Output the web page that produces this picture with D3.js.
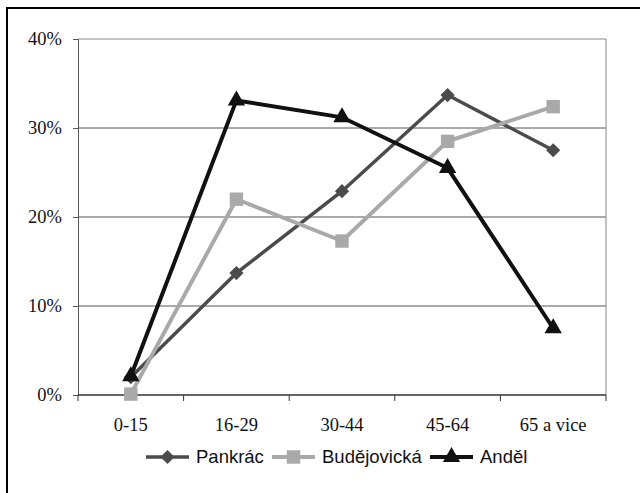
<!DOCTYPE html>
<html>
<head>
<meta charset="utf-8">
<script src="https://cdn.jsdelivr.net/npm/d3@7"></script>
<style>
  body { margin: 0; background: #fff; }
  svg { display: block; }
</style>
</head>
<body>
<svg id="chart" width="640" height="493"></svg>
<script>
// age groups and shares (%) per station
const categories = ['0-15', '16-29', '30-44', '45-64', '65 a vice'];
const pankrac = [2.0, 13.7, 22.9, 33.7, 27.5];
const budejovicka = [0.1, 22.0, 17.3, 28.5, 32.4];
const andel = [2.1, 33.1, 31.2, 25.5, 7.5];
const yTicks = [0, 10, 20, 30, 40];

const series = [
    { name: 'Pankrác', values: pankrac, color: '#4b4b4b', width: 3.5, symbol: d3.symbolSquare, size: 100, rotate: 45 },
    { name: 'Budějovická', values: budejovicka, color: '#a9a9a9', width: 4, symbol: d3.symbolSquare, size: 180, rotate: 0 },
    { name: 'Anděl', values: andel, color: '#111', width: 4, symbol: d3.symbolTriangle, size: 130, rotate: 0 }
];

const svg = d3.select('#chart');
const plot = { left: 78, top: 39, right: 606, bottom: 395 };

// outer frame (runs off the right and bottom edge like the scan)
svg.append('rect')
    .attr('x', 7).attr('y', 8)
    .attr('width', 660).attr('height', 520)
    .attr('fill', 'none')
    .attr('stroke', '#000')
    .attr('stroke-width', 2);

const x = d3.scaleBand().domain(categories).range([plot.left, plot.right]);
const y = d3.scaleLinear().domain([0, 40]).range([plot.bottom, plot.top]);

// gridlines
svg.append('g')
    .selectAll('line')
    .data(yTicks.slice(1))
    .enter().append('line')
    .attr('x1', plot.left).attr('x2', plot.right)
    .attr('y1', d => y(d)).attr('y2', d => y(d))
    .attr('stroke', d => d === 40 ? '#888' : '#555')
    .attr('stroke-width', 1);

// right border of plot area
svg.append('line')
    .attr('x1', plot.right).attr('x2', plot.right)
    .attr('y1', plot.top).attr('y2', plot.bottom)
    .attr('stroke', '#888');

// y axis
const yAxis = svg.append('g')
    .attr('transform', `translate(${plot.left},0)`)
    .call(d3.axisLeft(y).tickValues(yTicks).tickFormat(d => d + '%').tickSize(5).tickPadding(11));
yAxis.select('.domain').attr('stroke', '#555');
yAxis.selectAll('.tick line').attr('stroke', '#555');
yAxis.selectAll('text')
    .attr('font-family', 'Liberation Serif, serif')
    .attr('font-size', 18.5)
    .attr('fill', '#111');

// x axis, ticks at band edges
const edges = categories.map(c => x(c)).concat([plot.right]);
const xAxis = svg.append('g')
    .attr('transform', `translate(0,${plot.bottom})`);
xAxis.append('line')
    .attr('x1', plot.left).attr('x2', plot.right)
    .attr('stroke', '#333').attr('stroke-width', 1.5);
xAxis.selectAll('.edge')
    .data(edges)
    .enter().append('line')
    .attr('class', 'edge')
    .attr('x1', d => d).attr('x2', d => d)
    .attr('y1', 0).attr('y2', 6)
    .attr('stroke', '#333');
xAxis.selectAll('text')
    .data(categories)
    .enter().append('text')
    .attr('x', d => x(d) + x.bandwidth() / 2)
    .attr('y', 36)
    .attr('text-anchor', 'middle')
    .attr('font-family', 'Liberation Serif, serif')
    .attr('font-size', 18.5)
    .attr('fill', '#111')
    .text(d => d);

// lines + markers
const line = d3.line()
    .x((d, i) => x(categories[i]) + x.bandwidth() / 2)
    .y(d => y(d));

series.forEach(s => {
    const g = svg.append('g');
    g.append('path')
        .datum(s.values)
        .attr('d', line)
        .attr('fill', 'none')
        .attr('stroke', s.color)
        .attr('stroke-width', s.width)
        .attr('stroke-linejoin', 'miter');
    g.selectAll('path.mark')
        .data(s.values)
        .enter().append('path')
        .attr('class', 'mark')
        .attr('d', d3.symbol().type(s.symbol).size(s.size))
        .attr('transform', (d, i) => `translate(${x(categories[i]) + x.bandwidth() / 2},${y(d)}) rotate(${s.rotate})`)
        .attr('fill', s.color);
});

// legend
const legendX = [146, 272, 430];
const legendY = 457;
series.forEach((s, i) => {
    const g = svg.append('g').attr('transform', `translate(${legendX[i]},${legendY})`);
    g.append('line')
        .attr('x1', 0).attr('x2', 43)
        .attr('stroke', s.color)
        .attr('stroke-width', s.width);
    g.append('path')
        .attr('d', d3.symbol().type(s.symbol).size(s.size))
        .attr('transform', `translate(21.5,0) rotate(${s.rotate})`)
        .attr('fill', s.color);
    g.append('text')
        .attr('x', 50)
        .attr('y', 0)
        .attr('dy', '0.35em')
        .attr('font-family', 'Liberation Sans, Arial, sans-serif')
        .attr('font-size', 18.5)
        .attr('fill', '#111')
        .text(s.name);
});
</script>
</body>
</html>
